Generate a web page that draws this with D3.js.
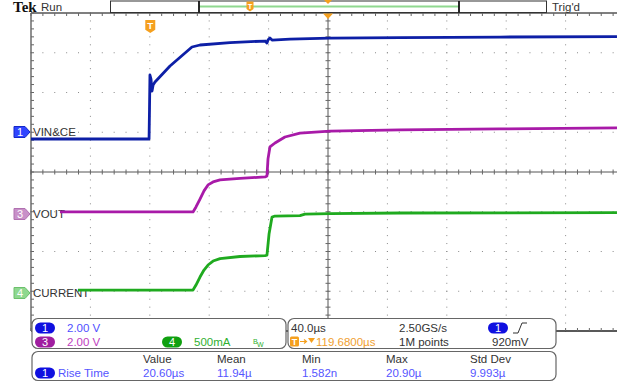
<!DOCTYPE html>
<html><head><meta charset="utf-8">
<script src="https://cdn.jsdelivr.net/npm/d3@7"></script>
<style>
html,body{margin:0;padding:0;background:#fff;}
svg{display:block;font-family:"Liberation Sans",Arial,sans-serif;}
</style></head>
<body>
<svg id="c" width="617" height="389"></svg>
<script>
// ---- Data (time in µs relative to trigger) ----
const vinTime  = [-200,-120.5,-120.2,-119.9,-119.2,-118.5,-117.8,-116.5,-106.4,-91.6,-86.2,-66.0,-42.4,-41.1,-40.4,-39.1,-37.7,-25.6,1.3,48.5,115.8,194.6];
const vinVolts = [-0.40,-0.40,1.11,2.82,2.62,2.01,2.31,2.47,3.27,4.23,4.33,4.45,4.53,4.43,4.58,4.68,4.58,4.63,4.68,4.70,4.73,4.75];
const voutTime  = [-180.5,-90.9,-88.9,-86.2,-83.5,-80.8,-77.4,-72.7,-59.3,-42.4,-41.1,-40.4,-39.1,-35.7,-29.0,-18.9,1.3,48.5,115.8,194.6];
const voutVolts = [0.05,0.05,0.30,0.70,1.11,1.41,1.56,1.66,1.74,1.81,1.86,2.72,3.32,3.52,3.82,4.02,4.12,4.18,4.23,4.28];
const curTime = [-168.4,-90.9,-88.9,-86.2,-83.5,-80.8,-77.4,-72.7,-59.3,-42.4,-41.1,-39.7,-37.7,-35.7,-18.9,-15.5,1.3,48.5,194.6];
const curMilliamps = [25,25,88,189,277,340,390,421,447,459,465,730,943,956,962,981,987,994,1000];

const channelLabels = ["VIN&CE","VOUT","CURRENT"];
const scaleTexts = ["2.00 V","2.00 V","500mA"];
const timebaseTexts = ["40.0µs","2.50GS/s","119.6800µs","1M points","920mV"];
const measHeaders = ["Value","Mean","Min","Max","Std Dev"];
const measValues = ["20.60µs","11.94µ","1.582n","20.90µ","9.993µ"];
const triggerOffset = -119.68;

// ---- Scales ----
const svg = d3.select("#c");
const x = d3.scaleLinear().domain([-200,200]).range([31,625]);
const ydiv = d3.scaleLinear().domain([-4,4]).range([331,13]);
const y1 = v => ydiv(1.03 + v/2);
const y3 = v => ydiv(-1.03 + v/2);
const y4 = i => ydiv(-3.02 + i/500);

// ---- Graticule ----
const g = svg.append("g");
const minorX = d3.range(-200,201,8);      // 5 minor per 40µs div
const minorY = d3.range(-4,4.01,0.2);
// dotted grid lines
[-160,-120,-80,-40,40,80,120,160].forEach(t=>{
  minorY.forEach(d=>{ g.append("rect").attr("x",x(t)-0.5).attr("y",ydiv(d)-0.5).attr("width",1).attr("height",1).attr("fill","#8a8a8a"); });
});
[-3,-2,-1,1,2,3].forEach(d=>{
  minorX.forEach(t=>{ g.append("rect").attr("x",x(t)-0.5).attr("y",ydiv(d)-0.5).attr("width",1).attr("height",1).attr("fill","#8a8a8a"); });
});
// center axes
g.append("line").attr("x1",x(-200)).attr("x2",617).attr("y1",ydiv(0)).attr("y2",ydiv(0)).attr("stroke","#555").attr("stroke-width",1);
g.append("line").attr("x1",x(0)).attr("x2",x(0)).attr("y1",ydiv(4)).attr("y2",ydiv(-4)).attr("stroke","#555").attr("stroke-width",1);
minorX.forEach(t=>{ g.append("line").attr("x1",x(t)).attr("x2",x(t)).attr("y1",ydiv(0)-2.5).attr("y2",ydiv(0)+2.5).attr("stroke","#666"); });
minorY.forEach(d=>{ g.append("line").attr("x1",x(0)-2.5).attr("x2",x(0)+2.5).attr("y1",ydiv(d)).attr("y2",ydiv(d)).attr("stroke","#666"); });
// border
g.append("line").attr("x1",x(-200)).attr("x2",617).attr("y1",ydiv(4)).attr("y2",ydiv(4)).attr("stroke","#555").attr("stroke-width",1.3);
g.append("line").attr("x1",x(-200)).attr("x2",617).attr("y1",ydiv(-4)).attr("y2",ydiv(-4)).attr("stroke","#222").attr("stroke-width",1.6);
g.append("line").attr("x1",x(-200)).attr("x2",x(-200)).attr("y1",ydiv(4)).attr("y2",ydiv(-4)).attr("stroke","#555").attr("stroke-width",1.3);
minorX.forEach(t=>{
  g.append("line").attr("x1",x(t)).attr("x2",x(t)).attr("y1",ydiv(4)).attr("y2",ydiv(4)+3).attr("stroke","#666");
  g.append("line").attr("x1",x(t)).attr("x2",x(t)).attr("y1",ydiv(-4)).attr("y2",ydiv(-4)-3).attr("stroke","#666");
});
minorY.forEach(d=>{ g.append("line").attr("x1",x(-200)).attr("x2",x(-200)+3).attr("y1",ydiv(d)).attr("y2",ydiv(d)).attr("stroke","#666"); });

// ---- Channel labels (behind traces) ----
const lab = svg.append("g").attr("font-size",11.5).attr("fill","#333");
lab.append("text").attr("x",33).attr("y",136).text(channelLabels[0]);
lab.append("text").attr("x",33).attr("y",218).text(channelLabels[1]);
lab.append("text").attr("x",33).attr("y",297).text(channelLabels[2]);

// ---- Traces ----
function trace(ts, vs, yf, color, w){
  const pts = ts.map((t,i)=>[x(t), yf(vs[i])]);
  svg.append("path").attr("d",d3.line()(pts)).attr("fill","none").attr("stroke",color).attr("stroke-width",w).attr("stroke-linejoin","round");
}
trace(vinTime, vinVolts, y1, "#0d1fa6", 2.8);
trace(voutTime, voutVolts, y3, "#a81aa8", 2.8);
trace(curTime, curMilliamps, y4, "#1faa1f", 2.8);

// ---- Channel ground markers ----
function marker(yc, fill, stroke, label){
  const p = `M14,${yc-5.5} L25,${yc-5.5} L30,${yc} L25,${yc+5.5} L14,${yc+5.5} Z`;
  svg.append("path").attr("d",p).attr("fill",fill).attr("stroke",stroke).attr("stroke-width",1);
  svg.append("text").attr("x",20).attr("y",yc+4).attr("text-anchor","middle").attr("font-size",11).attr("fill","#fff").text(label);
}
marker(132,"#2f45ff","#1428c8","1");
marker(214,"#c890c8","#b070b0","3");
marker(293,"#8fd88f","#6cc06c","4");

// ---- Header ----
svg.append("text").attr("x",13).attr("y",12).attr("font-family","'Liberation Serif',serif").attr("font-weight","bold").attr("font-size",15).attr("fill","#111").text("Tek");
svg.append("text").attr("x",41).attr("y",11).attr("font-size",11.5).attr("fill","#333").text("Run");
svg.append("rect").attr("x",110.5).attr("y",1).attr("width",436).attr("height",11.5).attr("fill","#fff").attr("stroke","#333").attr("stroke-width",1);
svg.append("line").attr("x1",199).attr("x2",459).attr("y1",6.5).attr("y2",6.5).attr("stroke","#8fd88f").attr("stroke-width",2);
svg.append("line").attr("x1",199).attr("x2",199).attr("y1",1).attr("y2",12.5).attr("stroke","#111").attr("stroke-width",1.8);
svg.append("line").attr("x1",459).attr("x2",459).attr("y1",1).attr("y2",12.5).attr("stroke","#111").attr("stroke-width",1.8);
svg.append("text").attr("x",552).attr("y",11).attr("font-size",11.5).attr("fill","#333").text("Trig'd");
// orange T on record bar
function tIcon(cx, top, w, h){
  svg.append("path").attr("d",`M${cx-w/2},${top} L${cx+w/2},${top} L${cx+w/2},${top+h*0.75} L${cx},${top+h} L${cx-w/2},${top+h*0.75} Z`).attr("fill","#f5a01e");
  svg.append("text").attr("x",cx).attr("y",top+h*0.72).attr("text-anchor","middle").attr("font-size",h*0.75).attr("font-weight","bold").attr("fill","#fff").text("T");
}
tIcon(250,1.5,7,10);
tIcon(x(triggerOffset),20,10,13);
// trigger position triangles
svg.append("path").attr("d",`M${x(0)-4},0 L${x(0)+4},0 L${x(0)},4 Z`).attr("fill","#f5a01e");
svg.append("path").attr("d",`M${x(0)-5},13.5 L${x(0)+5},13.5 L${x(0)},19 Z`).attr("fill","#f5a01e");

// ---- Bottom panels ----
function panel(x0,y0,w,h){ svg.append("rect").attr("x",x0).attr("y",y0).attr("width",w).attr("height",h).attr("rx",6).attr("fill","#fff").attr("stroke","#666").attr("stroke-width",1.2); }
panel(32,318.5,254,30);
panel(288,318.5,268,30);
panel(32,351.5,524,29);
function pill(cx,cy,fill,label){
  svg.append("rect").attr("x",cx-10).attr("y",cy-5.5).attr("width",20).attr("height",11).attr("rx",5.5).attr("fill",fill);
  svg.append("text").attr("x",cx).attr("y",cy+4).attr("text-anchor","middle").attr("font-size",11).attr("fill","#fff").text(label);
}
const T = svg.append("g").attr("font-size",11.5);
pill(45,328,"#1010e0","1");
T.append("text").attr("x",67).attr("y",332).attr("fill","#4f4fff").text(scaleTexts[0]);
pill(45,342,"#a01ea0","3");
T.append("text").attr("x",67).attr("y",346).attr("fill","#c040c0").text(scaleTexts[1]);
pill(172,342,"#10a010","4");
T.append("text").attr("x",194).attr("y",346).attr("fill","#30b030").text(scaleTexts[2]);
svg.append("text").attr("x",253).attr("y",344).attr("font-size",7).attr("fill","#30b030").text("B");
svg.append("text").attr("x",257).attr("y",347).attr("font-size",7).attr("fill","#30b030").text("W");

T.append("text").attr("x",291).attr("y",332).attr("fill","#333").text(timebaseTexts[0]);
T.append("text").attr("x",399).attr("y",332).attr("fill","#333").text(timebaseTexts[1]);
pill(498,328,"#1010e0","1");
svg.append("path").attr("d","M513,333 L518,333 L522,323 L527,323").attr("fill","none").attr("stroke","#333").attr("stroke-width",1);
// orange trigger offset row
svg.append("rect").attr("x",290).attr("y",336.5).attr("width",9).attr("height",10).attr("rx",1.5).attr("fill","#f5a01e");
svg.append("text").attr("x",294.5).attr("y",345).attr("text-anchor","middle").attr("font-size",9).attr("font-weight","bold").attr("fill","#fff").text("T");
svg.append("path").attr("d","M300,341.5 L306,341.5 M304,339.5 L306.5,341.5 L304,343.5").attr("stroke","#f5a01e").attr("fill","none").attr("stroke-width",1.2);
svg.append("path").attr("d","M308,338 L315,338 L311.5,343 Z").attr("fill","#f5a01e");
T.append("text").attr("x",316).attr("y",346).attr("fill","#f0a030").text(timebaseTexts[2]);
T.append("text").attr("x",399).attr("y",346).attr("fill","#333").text(timebaseTexts[3]);
T.append("text").attr("x",492).attr("y",346).attr("fill","#333").text(timebaseTexts[4]);

const headX = [143,217,302,386,470];
measHeaders.forEach((h,i)=>T.append("text").attr("x",headX[i]).attr("y",363).attr("fill","#333").text(h));
measValues.forEach((v,i)=>T.append("text").attr("x",headX[i]).attr("y",377).attr("fill","#5555ff").text(v));
pill(45,373,"#1010e0","1");
T.append("text").attr("x",58).attr("y",377).attr("fill","#5555ff").text("Rise Time");
</script>
</body></html>
